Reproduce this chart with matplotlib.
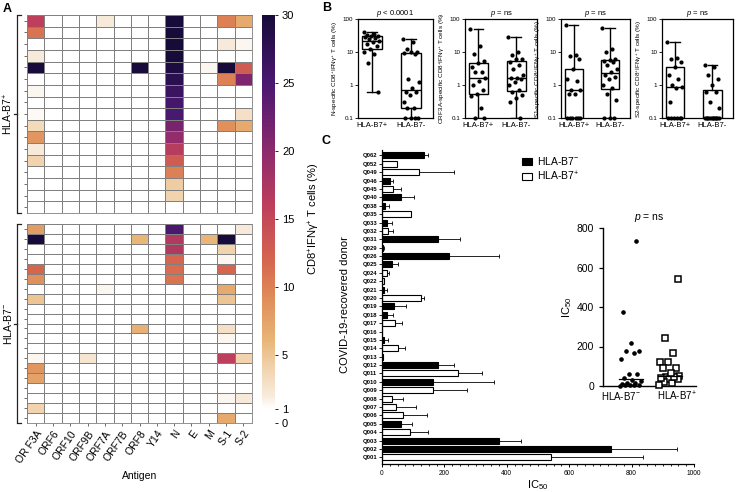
import numpy as np
import matplotlib
matplotlib.use("Agg")
import matplotlib.pyplot as plt
from matplotlib.colors import LinearSegmentedColormap
from matplotlib.lines import Line2D
from matplotlib.patches import Patch
from matplotlib.ticker import FixedLocator, FixedFormatter, MultipleLocator

plt.rcParams['font.family'] = ['Liberation Sans', 'DejaVu Sans']
plt.rcParams['mathtext.fontset'] = 'custom'
plt.rcParams['mathtext.rm'] = 'Liberation Sans'
plt.rcParams['mathtext.it'] = 'Liberation Sans:italic'
plt.rcParams['mathtext.bf'] = 'Liberation Sans:bold'

# ---------------- data ----------------
antigens = ['OR F3A', 'ORF6', 'ORF10', 'ORF9B', 'ORF7A', 'ORF7B', 'ORF8', 'Y14', 'N', 'E', 'M', 'S-1', 'S-2']

heat_b7pos = [
    [16, 0, 0, 0, 2, 0, 0, 0, 30, 0, 0, 10, 7],
    [11, 0, 0, 0, 0, 0, 0, 0, 30, 0, 0, 0, 0],
    [0, 0, 0, 0, 0, 0, 0, 0, 30, 0, 0, 2, 1.5],
    [2, 0, 0, 0, 0, 0, 0, 0, 30, 0, 0, 0, 0],
    [30, 0, 0, 0, 0, 0, 30, 0, 29.5, 0, 1.5, 30, 13],
    [0, 0, 0, 0, 0, 0, 0, 0, 28, 0, 0.8, 10, 21],
    [1.5, 0, 0, 0, 0, 0, 0, 0, 26.5, 0, 0, 0, 1],
    [0, 0, 0, 0, 0, 0, 0, 0, 25.5, 0, 0, 0, 0],
    [1.3, 0, 0, 0, 0, 0, 0, 0, 25, 0, 0, 0, 3],
    [3.5, 0, 0, 0, 0, 0, 0, 0, 21.5, 0, 0, 9, 7],
    [8.5, 0, 0, 0, 0, 0, 0, 0, 19.5, 0, 0, 0, 0],
    [2, 0, 0, 0, 0, 0, 0, 0, 16.5, 0, 0, 0, 0],
    [4, 0, 0, 0, 0, 0, 0, 0, 13, 0, 0, 0, 0],
    [0, 0, 0, 0, 0, 0, 0, 0, 10, 0, 0, 0, 0],
    [0, 0, 0, 0, 0, 0, 0, 0, 4.5, 0, 0, 0, 0],
    [0, 0, 0, 0, 0, 0, 0, 0, 4, 0, 0, 0, 0],
    [0, 0, 0, 0, 0, 0, 0, 0, 0, 0, 0, 0, 0],
]

heat_b7neg = [
    [8, 0, 0, 0, 0, 0, 0, 0, 25, 0, 0, 0, 2],
    [30, 0, 0, 0, 0, 0, 6, 0, 17, 0, 6, 30, 1],
    [0, 0, 0, 0, 0, 0, 0, 0, 17, 0, 0, 4, 0],
    [0, 0, 0, 0, 0, 0, 0, 0, 12, 0, 0, 1.5, 0],
    [12, 0, 0, 0, 0, 0, 0, 0, 11.5, 0, 0, 12, 0],
    [9, 0, 0, 0, 0, 0, 0, 0, 11, 0, 0, 0, 0],
    [0, 0, 0, 0, 1.5, 0, 0, 0, 0, 0, 0, 7, 0],
    [5, 0, 0, 0, 0, 0, 0, 0, 0, 0, 0, 5, 0],
    [0, 0, 0, 0, 0, 0, 0, 1, 0, 0, 0, 0, 0],
    [0, 0, 0, 0, 0, 0, 0, 0, 0, 0, 0, 0, 0],
    [0, 0, 0, 0, 0, 0, 6.5, 0, 0, 0, 0, 3, 0],
    [0, 0, 0, 0, 0, 0, 0, 0, 0, 0, 0, 1.5, 0],
    [0, 0, 0, 0, 0, 0, 0, 0, 0, 0, 0, 0, 0],
    [1.5, 0, 0, 2.5, 0, 0, 0, 0, 0, 0, 0, 16, 4],
    [8.5, 0, 0, 0, 0, 0, 0, 0, 0, 0, 0, 1, 0],
    [7.5, 0, 0, 0, 0, 0, 0, 0, 0, 0, 0, 1, 0],
    [0, 0, 0, 0, 0, 0, 0, 0, 0, 0, 0, 0, 0],
    [0, 0, 0, 0, 0, 0, 0, 0, 0, 0, 0, 1.5, 2],
    [4, 0, 0, 0, 0, 0, 0, 0, 0, 0, 0, 0, 0],
    [0, 0, 0, 0, 0, 0, 0, 0, 0, 0, 0, 7, 0],
]
cbar_ticks = [0, 1, 5, 10, 15, 20, 25, 30]

# Panel B (percent, zeros shown at 0.1)
box_titles = [r'$p$ < 0.0001', r'$p$ = ns', r'$p$ = ns', r'$p$ = ns']
box_ylabels = ['N-specific', 'ORF3A-specific', 'S1-specific', 'S2-specific']
box_groups = ['HLA-B7+', 'HLA-B7-']
N_b7pos = [40, 35, 33, 31, 30, 28, 26, 25, 22, 20, 18, 15, 12, 10, 9, 4.6, 0.6]
N_b7neg = [25, 20, 12, 10, 10, 9.5, 9, 1.5, 1.2, 0.8, 0.6, 0.6, 0.5, 0.3, 0.2, 0.2, 0.1, 0.1, 0.1, 0.1]
ORF3A_b7pos = [50, 15, 9, 5.5, 4.5, 3.5, 2.5, 2.5, 1.6, 1.3, 1.0, 0.7, 0.55, 0.45, 0.2, 0.1, 0.1]
ORF3A_b7neg = [28, 10, 8, 6.2, 6, 5, 4, 3, 2, 1.6, 1.6, 1.5, 1.2, 1.0, 0.7, 0.6, 0.5, 0.4, 0.3, 0.1]
S1_b7pos = [65, 8, 7.5, 6, 3, 1.5, 1.3, 0.7, 0.7, 0.55, 0.55, 0.1, 0.1, 0.1, 0.1, 0.1, 0.1]
S1_b7neg = [55, 12, 10, 6, 5.8, 5.5, 5, 4, 3, 2.5, 2, 1.8, 1.5, 1.0, 0.8, 0.55, 0.35, 0.1, 0.1, 0.1]
S2_b7pos = [20, 6.5, 6, 5, 3.5, 2, 1.5, 1.0, 0.9, 0.8, 0.3, 0.1, 0.1, 0.1, 0.1, 0.1, 0.1]
S2_b7neg = [4, 3.5, 2, 1.5, 1.0, 0.6, 0.6, 0.3, 0.2, 0.1, 0.1, 0.1, 0.1, 0.1, 0.1, 0.1, 0.1, 0.1, 0.1, 0.1]
box_data = [(N_b7pos, N_b7neg), (ORF3A_b7pos, ORF3A_b7neg), (S1_b7pos, S1_b7neg), (S2_b7pos, S2_b7neg)]

# Panel C
donors = ['Q062', 'Q052', 'Q049', 'Q046', 'Q045', 'Q040', 'Q038', 'Q035', 'Q033', 'Q032', 'Q031', 'Q029',
          'Q026', 'Q025', 'Q024', 'Q022', 'Q021', 'Q020', 'Q019', 'Q018', 'Q017', 'Q016', 'Q015', 'Q014',
          'Q013', 'Q012', 'Q011', 'Q010', 'Q009', 'Q008', 'Q007', 'Q006', 'Q005', 'Q004', 'Q003', 'Q002', 'Q001']
ic50 = [136, 47, 120, 26, 36, 60, 10, 92, 17, 20, 178, 4,
        216, 31, 15, 5, 6, 124, 40, 15, 42, 0, 7, 52,
        3, 179, 242, 165, 165, 33, 44, 68, 60, 90, 374, 733, 543]
ic50_err = [13, 0, 111, 10, 24, 43, 14, 0, 16, 14, 73, 4,
            158, 21, 7, 3, 11, 12, 37, 21, 21, 0, 11, 22,
            0, 52, 80, 193, 109, 35, 65, 76, 35, 59, 73, 212, 295]
hla_b7 = ['-', '+', '+', '-', '+', '-', '-', '+', '-', '+', '-', '-',
          '-', '-', '+', '+', '-', '+', '-', '-', '+', '-', '-', '+',
          '-', '-', '+', '-', '+', '+', '+', '+', '-', '+', '-', '-', '+']
scatter_labels = ['HLA-B7$^{-}$', 'HLA-B7$^{+}$']

# ---------------- figure ----------------
W, H = 739, 492
fig = plt.figure(figsize=(W / 100, H / 100), dpi=100)


def px_axes(x0, y0, x1, y1):
    return fig.add_axes([x0 / W, 1 - y1 / H, (x1 - x0) / W, (y1 - y0) / H])


def fx(x):
    return x / W


def fy(y):
    return 1 - y / H


cmap = LinearSegmentedColormap.from_list('heat', [
    (0.0, '#ffffff'), (1 / 30, '#ffffff'), (2 / 30, '#f8eadb'), (4 / 30, '#f1d3ae'),
    (6 / 30, '#e9b679'), (9 / 30, '#e08f5a'), (12 / 30, '#d5654f'), (16 / 30, '#bd3f5c'),
    (20 / 30, '#8c2a6c'), (25 / 30, '#4a1870'), (1.0, '#170b3a')])

# Panel A heatmaps
mesh = None
for data, (y0, y1), show_x in [(heat_b7pos, (15, 213), False), (heat_b7neg, (224, 423), True)]:
    ax = px_axes(27, y0, 252, y1)
    arr = np.array(data, dtype=float)
    mesh = ax.pcolormesh(arr, cmap=cmap, vmin=0, vmax=30, edgecolors='#808080', linewidth=0.55)
    ax.set_xlim(0, len(antigens))
    ax.set_ylim(arr.shape[0], 0)
    for s in ax.spines.values():
        s.set_edgecolor('#808080')
        s.set_linewidth(0.6)
    ax.set_yticks(np.arange(arr.shape[0]) + 0.5)
    ax.set_yticklabels([])
    ax.tick_params(axis='y', length=2, width=0.6, color='#555555')
    ax.set_xticks(np.arange(len(antigens)) + 0.5)
    if show_x:
        ax.set_xticklabels(antigens, rotation=55, ha='right', rotation_mode='anchor', fontsize=7.5)
        ax.tick_params(axis='x', length=2, width=0.6, color='#555555', pad=2)
        ax.set_xlabel('Antigen', fontsize=7.5, labelpad=4)
    else:
        ax.set_xticklabels([])
        ax.tick_params(axis='x', length=0)

cax = px_axes(262, 15, 275, 423)
cb = fig.colorbar(mesh, cax=cax, ticks=cbar_ticks)
cb.outline.set_visible(False)
cax.tick_params(labelsize=8, length=2, width=0.6, pad=3)
fig.text(fx(314), fy(219), 'CD8$^{+}$IFNγ$^{+}$ T cells (%)', rotation=90, ha='center', va='center', fontsize=8)


def bracket(y0, y1, label):
    xv = 16.5
    mid = (y0 + y1) / 2
    kw = dict(color='#222222', lw=0.9, transform=fig.transFigure)
    fig.add_artist(Line2D([fx(xv), fx(xv)], [fy(y0 + 1), fy(y1 - 1)], **kw))
    fig.add_artist(Line2D([fx(xv), fx(21)], [fy(y0), fy(y0)], **kw))
    fig.add_artist(Line2D([fx(xv), fx(21)], [fy(y1), fy(y1)], **kw))
    fig.add_artist(Line2D([fx(xv), fx(14)], [fy(mid), fy(mid)], **kw))
    fig.text(fx(8), fy(mid), label, rotation=90, ha='center', va='center', fontsize=7.5)


bracket(15, 213, 'HLA-B7$^{+}$')
bracket(224, 423, 'HLA-B7$^{-}$')
fig.text(fx(3), fy(9), 'A', fontsize=9, fontweight='bold', va='center')

# Panel B
box_pos = [(358, 433), (465, 537), (561, 630), (662, 733)]
for k, ((x0, x1), (gp, gn)) in enumerate(zip(box_pos, box_data)):
    ax = px_axes(x0, 19, x1, 118)
    ax.set_yscale('log')
    ax.boxplot([gp, gn], positions=[1, 2], widths=0.5, whis=(0, 100), showfliers=False,
               patch_artist=True,
               boxprops=dict(facecolor='white', edgecolor='black', lw=1.0),
               medianprops=dict(color='black', lw=1.0),
               whiskerprops=dict(color='black', lw=1.0),
               capprops=dict(color='black', lw=1.0))
    for pos, vals in zip([1, 2], [gp, gn]):
        n = len(vals)
        offs = np.array([((i * 0.618) % 1 - 0.5) * 0.42 for i in range(n)])
        ax.plot(pos + offs, vals, 'o', color='black', ms=2.0, zorder=4, clip_on=False)
    ax.set_ylim(0.1, 100)
    ax.set_xlim(0.65, 2.55)
    ax.yaxis.set_major_locator(FixedLocator([0.1, 1, 10, 100]))
    ax.yaxis.set_major_formatter(FixedFormatter(['0.1', '1', '10', '100']))
    ax.yaxis.set_minor_locator(FixedLocator([]))
    ax.set_xticks([1, 2])
    ax.set_xticklabels(box_groups, fontsize=5.5)
    ax.tick_params(axis='y', labelsize=4.5, length=2, width=0.6, pad=1.5)
    ax.tick_params(axis='x', length=0, pad=3)
    for s in ax.spines.values():
        s.set_linewidth(0.9)
    ax.set_title(box_titles[k], fontsize=5.5, pad=3)
    ax.set_ylabel(box_ylabels[k] + ' CD8$^{+}$IFNγ$^{+}$ T cells (%)', fontsize=4.6, labelpad=2)
fig.text(fx(322), fy(8), 'B', fontsize=9, fontweight='bold', va='center')

# Panel C bar chart
axc = px_axes(382, 150, 694, 464)
ypos = np.arange(len(donors))
for i in range(len(donors)):
    fc = 'black' if hla_b7[i] == '-' else 'white'
    axc.barh(ypos[i], ic50[i], height=0.72, color=fc, edgecolor='black', linewidth=0.8,
             xerr=[[0], [ic50_err[i]]], error_kw=dict(ecolor='black', elinewidth=0.6, capsize=1.5, capthick=0.6))
axc.set_ylim(36.8, -0.65)
axc.set_xlim(0, 1000)
axc.set_yticks(ypos)
axc.set_yticklabels(donors, fontsize=4.2, fontweight='bold')
axc.xaxis.set_major_locator(MultipleLocator(200))
axc.xaxis.set_minor_locator(MultipleLocator(25))
axc.tick_params(axis='x', labelsize=4.8, length=2.5, width=0.7, pad=2)
axc.tick_params(axis='x', which='minor', length=1.5, width=0.6)
axc.tick_params(axis='y', length=2, width=0.6, pad=1.5)
for s in ['top', 'right']:
    axc.spines[s].set_visible(False)
for s in ['left', 'bottom']:
    axc.spines[s].set_linewidth(0.9)
axc.set_xlabel('IC$_{50}$', fontsize=8, labelpad=1)
fig.text(fx(345), fy(305), 'COVID-19-recovered donor', rotation=90, ha='center', va='center', fontsize=8)
fig.text(fx(322), fy(141), 'C', fontsize=9, fontweight='bold', va='center')

handles = [Patch(facecolor='black', edgecolor='black', lw=0.8),
           Patch(facecolor='white', edgecolor='black', lw=0.8)]
fig.legend(handles, ['HLA-B7$^{-}$', 'HLA-B7$^{+}$'], loc='upper left', bbox_to_anchor=(fx(515), fy(148)),
           frameon=False, fontsize=7.5, handlelength=0.9, handleheight=0.6, handletextpad=0.5,
           labelspacing=0.2, borderpad=0.2)

# Inset scatter
axs = px_axes(603, 228, 696, 386)
neg_vals = [v for v, g in zip(ic50, hla_b7) if g == '-']
pos_vals = [v for v, g in zip(ic50, hla_b7) if g == '+']
for pos, vals, mk in [(0, neg_vals, 'neg'), (1, pos_vals, 'pos')]:
    n = len(vals)
    order = np.argsort(vals)
    offs = np.zeros(n)
    for rank, idx in enumerate(order):
        offs[idx] = ((rank * 0.618) % 1 - 0.5) * 0.55
    if mk == 'neg':
        axs.plot(pos + offs, vals, 'o', color='black', ms=2.3, clip_on=False, zorder=3)
    else:
        axs.plot(pos + offs, vals, 's', mfc='white', mec='black', mew=1.1, ms=4.0, clip_on=False, zorder=3)
    med = np.median(vals)
    axs.plot([pos - 0.3, pos + 0.3], [med, med], color='black', lw=0.9, zorder=4)
axs.set_xlim(-0.72, 1.67)
axs.set_ylim(0, 800)
axs.set_yticks([0, 200, 400, 600, 800])
axs.set_xticks([-0.25, 1.18])
axs.set_xticklabels(scatter_labels, fontsize=7)
axs.tick_params(axis='y', labelsize=7.5, length=3, width=0.9)
axs.tick_params(axis='x', length=0, pad=3)
for s in ['top', 'right']:
    axs.spines[s].set_visible(False)
for s in ['left', 'bottom']:
    axs.spines[s].set_linewidth(1.0)
axs.set_ylabel('IC$_{50}$', fontsize=8, labelpad=2)
axs.set_title(r'$p$ = ns', fontsize=7.5, pad=6)

fig.savefig('out.png', dpi=100)
